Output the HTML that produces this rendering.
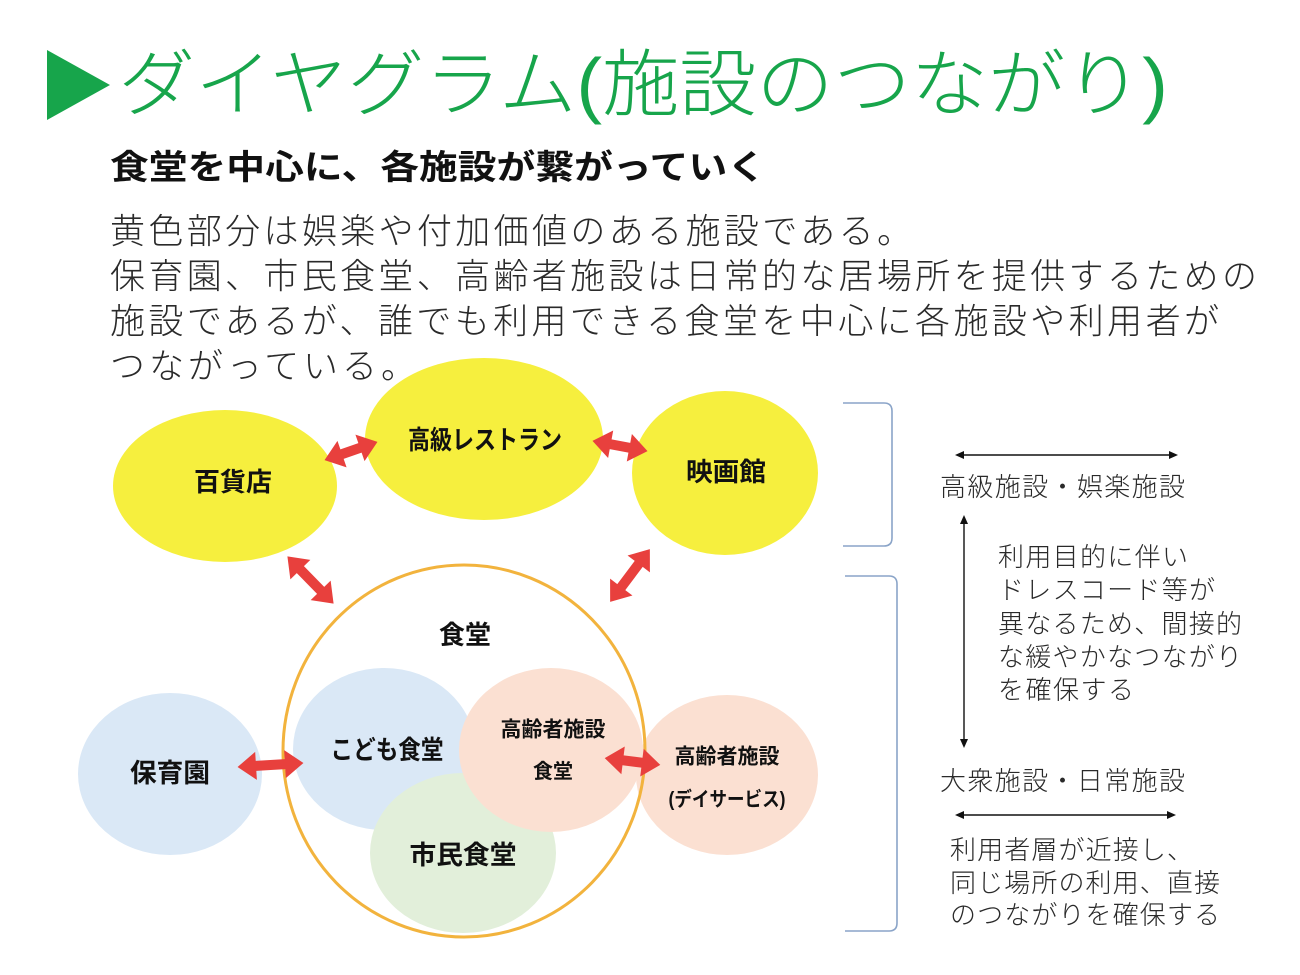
<!DOCTYPE html>
<html lang="ja">
<head>
<meta charset="utf-8">
<style>
  html,body{margin:0;padding:0;background:#ffffff;}
  body{width:1300px;height:975px;overflow:hidden;}
  svg{display:block;}
  .jp{font-family:"Liberation Sans","Noto Sans CJK JP",sans-serif;}
  .lbl{font-family:"Liberation Sans","Noto Sans CJK JP",sans-serif;font-weight:700;fill:#111;}
  .body{font-family:"Liberation Sans","Noto Sans CJK JP",sans-serif;font-weight:300;fill:#2a2a2a;}
</style>
</head>
<body>
<svg width="1300" height="975" viewBox="0 0 1300 975" xmlns="http://www.w3.org/2000/svg">
  <defs>
    <polygon id="dbl55" points="-28,0 -9.5,-14 -9.5,-5 9.5,-5 9.5,-14 28,0 9.5,14 9.5,5 -9.5,5 -9.5,14" fill="#e8403d"/>
    <polygon id="dbl65" points="-33,0 -14.5,-14 -14.5,-5 14.5,-5 14.5,-14 33,0 14.5,14 14.5,5 -14.5,5 -14.5,14" fill="#e8403d"/>
  </defs>

  <!-- Title -->
  <polygon points="47,50 47,120 110,85" fill="#17a54b"/>
  <text x="118" y="85" class="jp" font-size="73" font-weight="300" fill="#17a54b" dominant-baseline="central" textLength="1050" lengthAdjust="spacingAndGlyphs">ダイヤグラム(施設のつながり)</text>

  <!-- Subtitle -->
  <text x="110" y="168" class="jp" font-size="34" font-weight="700" fill="#111" dominant-baseline="central" textLength="656" lengthAdjust="spacingAndGlyphs">食堂を中心に、各施設が繋がっていく</text>

  <!-- Paragraph -->
  <text x="110" y="232" class="body" font-size="35" dominant-baseline="central" textLength="802" lengthAdjust="spacing">黄色部分は娯楽や付加価値のある施設である。</text>
  <text x="110" y="277" class="body" font-size="35" dominant-baseline="central" textLength="1147" lengthAdjust="spacing">保育園、市民食堂、高齢者施設は日常的な居場所を提供するための</text>
  <text x="110" y="322" class="body" font-size="35" dominant-baseline="central" textLength="1109" lengthAdjust="spacing">施設であるが、誰でも利用できる食堂を中心に各施設や利用者が</text>
  <text x="110" y="367" class="body" font-size="35" dominant-baseline="central" textLength="306" lengthAdjust="spacing">つながっている。</text>

  <!-- Yellow circles -->
  <ellipse cx="225" cy="486" rx="112" ry="76" fill="#f6ef3e"/>
  <ellipse cx="484" cy="439" rx="119" ry="81" fill="#f6ef3e"/>
  <ellipse cx="725" cy="473" rx="93" ry="82" fill="#f6ef3e"/>
  <text x="233" y="482" class="lbl" font-size="26" text-anchor="middle" dominant-baseline="central" textLength="78" lengthAdjust="spacingAndGlyphs">百貨店</text>
  <text x="485" y="440" class="lbl" font-size="26" text-anchor="middle" dominant-baseline="central" textLength="154" lengthAdjust="spacingAndGlyphs">高級レストラン</text>
  <text x="726" y="472" class="lbl" font-size="26" text-anchor="middle" dominant-baseline="central" textLength="80" lengthAdjust="spacingAndGlyphs">映画館</text>

  <!-- Lower circles -->
  <ellipse cx="170" cy="774" rx="92" ry="81" fill="#dae8f6"/>
  <ellipse cx="384" cy="749" rx="91" ry="81" fill="#dae8f6"/>
  <ellipse cx="463" cy="853" rx="93" ry="80" fill="#e2efda"/>
  <ellipse cx="551" cy="750" rx="92" ry="82" fill="#fbe0d2"/>
  <ellipse cx="727" cy="775" rx="91" ry="80" fill="#fbe0d2"/>

  <!-- 食堂 outline -->
  <ellipse cx="464" cy="751" rx="181" ry="186" fill="none" stroke="#f2b33d" stroke-width="3"/>

  <text x="465" y="635" class="lbl" font-size="26" text-anchor="middle" dominant-baseline="central" textLength="52" lengthAdjust="spacingAndGlyphs">食堂</text>
  <text x="170" y="773" class="lbl" font-size="26" text-anchor="middle" dominant-baseline="central" textLength="80" lengthAdjust="spacingAndGlyphs">保育園</text>
  <text x="387" y="750" class="lbl" font-size="26" text-anchor="middle" dominant-baseline="central" textLength="113" lengthAdjust="spacingAndGlyphs">こども食堂</text>
  <text x="553" y="730" class="lbl" font-size="21" text-anchor="middle" dominant-baseline="central" textLength="105" lengthAdjust="spacingAndGlyphs">高齢者施設</text>
  <text x="553" y="772" class="lbl" font-size="20" text-anchor="middle" dominant-baseline="central" textLength="40" lengthAdjust="spacingAndGlyphs">食堂</text>
  <text x="463" y="855" class="lbl" font-size="26" text-anchor="middle" dominant-baseline="central" textLength="107" lengthAdjust="spacingAndGlyphs">市民食堂</text>
  <text x="727" y="757" class="lbl" font-size="21" text-anchor="middle" dominant-baseline="central" textLength="105" lengthAdjust="spacingAndGlyphs">高齢者施設</text>
  <text x="727" y="800" class="lbl" font-size="20" text-anchor="middle" dominant-baseline="central" textLength="117" lengthAdjust="spacingAndGlyphs">(デイサービス)</text>

  <!-- Red double arrows -->
  <use href="#dbl55" transform="translate(351,451) rotate(-19)"/>
  <use href="#dbl55" transform="translate(620,446) rotate(10.5)"/>
  <use href="#dbl65" transform="translate(310.5,580) rotate(45.6)"/>
  <use href="#dbl65" transform="translate(630,575.5) rotate(127)"/>
  <use href="#dbl65" transform="translate(270.5,765) rotate(-3.5)"/>
  <use href="#dbl55" transform="translate(632.5,761.5) rotate(7)"/>

  <!-- Brackets -->
  <path d="M843,403 L884,403 Q892,403 892,411 L892,538 Q892,546 884,546 L843,546" fill="none" stroke="#8aa4c8" stroke-width="1.6"/>
  <path d="M845,576 L889,576 Q897,576 897,584 L897,923 Q897,931 889,931 L845,931" fill="none" stroke="#8aa4c8" stroke-width="1.6"/>

  <!-- Black thin arrows -->
  <g stroke="#111" stroke-width="1.4" fill="#111">
    <line x1="962" y1="455" x2="1171" y2="455"/>
    <polygon points="955,455 964,451 964,459" stroke="none"/>
    <polygon points="1178,455 1169,451 1169,459" stroke="none"/>

    <line x1="964" y1="522" x2="964" y2="741"/>
    <polygon points="964,515 960,524 968,524" stroke="none"/>
    <polygon points="964,748 960,739 968,739" stroke="none"/>

    <line x1="962" y1="815" x2="1169" y2="815"/>
    <polygon points="955,815 964,811 964,819" stroke="none"/>
    <polygon points="1176,815 1167,811 1167,819" stroke="none"/>
  </g>

  <!-- Right side text -->
  <text x="940" y="487" class="body" font-size="26" dominant-baseline="central" textLength="245" lengthAdjust="spacing">高級施設・娯楽施設</text>
  <text x="998" y="557" class="body" font-size="26" dominant-baseline="central" textLength="190" lengthAdjust="spacing">利用目的に伴い</text>
  <text x="998" y="590" class="body" font-size="26" dominant-baseline="central" textLength="217" lengthAdjust="spacing">ドレスコード等が</text>
  <text x="998" y="624" class="body" font-size="26" dominant-baseline="central" textLength="244" lengthAdjust="spacing">異なるため、間接的</text>
  <text x="998" y="657" class="body" font-size="26" dominant-baseline="central" textLength="244" lengthAdjust="spacing">な緩やかなつながり</text>
  <text x="998" y="690" class="body" font-size="26" dominant-baseline="central" textLength="136" lengthAdjust="spacing">を確保する</text>
  <text x="940" y="781" class="body" font-size="26" dominant-baseline="central" textLength="245" lengthAdjust="spacing">大衆施設・日常施設</text>
  <text x="950" y="850" class="body" font-size="26" dominant-baseline="central" textLength="243" lengthAdjust="spacing">利用者層が近接し、</text>
  <text x="950" y="883" class="body" font-size="26" dominant-baseline="central" textLength="270" lengthAdjust="spacing">同じ場所の利用、直接</text>
  <text x="950" y="915" class="body" font-size="26" dominant-baseline="central" textLength="270" lengthAdjust="spacing">のつながりを確保する</text>
</svg>
</body>
</html>
